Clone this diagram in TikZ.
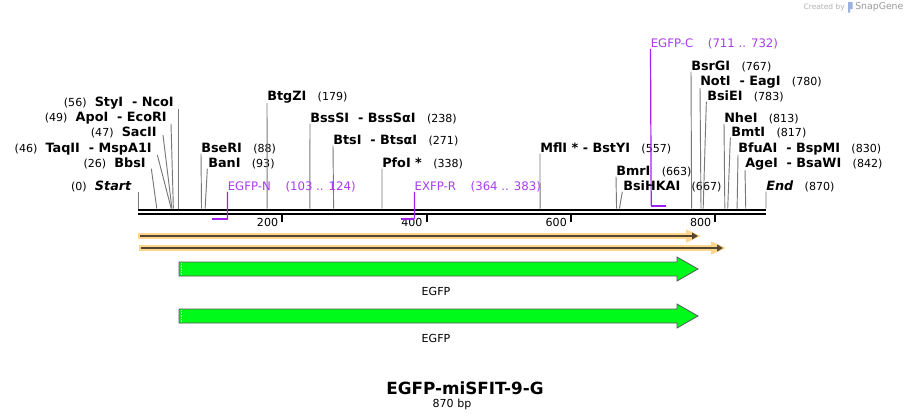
\documentclass[tikz,border=0pt]{standalone}
\usepackage{fontspec}
\setmainfont{DejaVu Sans}
\usetikzlibrary{arrows.meta}
\definecolor{primer}{RGB}{160,32,240}
\definecolor{primertxt}{RGB}{170,60,240}
\definecolor{featorange}{RGB}{255,214,140}
\definecolor{featdark}{RGB}{85,70,50}
\definecolor{egfpgreen}{RGB}{0,250,25}
\definecolor{cutgray}{RGB}{120,120,120}
\newcommand\nm[1]{\textbf{#1}}
\newcommand\ps[1]{{\mdseries\fontsize{8.3}{10}\selectfont(#1)}}
\newcommand\gap{\hspace{8.5pt}}
\begin{document}
\begin{tikzpicture}[x=0.75pt,y=-0.75pt,
  lab/.style={inner sep=0pt, font=\fontsize{9.6}{11}\selectfont},
  el/.style={lab, anchor=base west},
  er/.style={lab, anchor=base east},
  pl/.style={lab, anchor=base west, text=primertxt, font=\fontsize{8.8}{11}\selectfont},
  cut/.style={draw=cutgray, line width=0.7pt},
  pbar/.style={draw=primer, line width=1.5pt},
  pline/.style={draw=primer, line width=0.9pt},
  tick/.style={line width=1.5pt},
  ticklab/.style={inner sep=0pt, anchor=east, font=\fontsize{8.3}{10}\selectfont},
  feat/.style={draw=black!65, line width=0.6pt, fill=egfpgreen},
  flab/.style={inner sep=0pt, font=\fontsize{8.3}{10}\selectfont}]
\useasboundingbox (0,0) rectangle (905,419);
\fill[white] (0,0) rectangle (905,419);

% sites on backbone
\foreach \p in {0,26,46,47,49,56,88,93,179,238,271,338,557,663,667,767,780,783,813,817,830,842,870}
  \coordinate (s\p) at ({138+0.7218*\p},208.5);

% backbone
\coordinate (bbL) at (138,210.3);
\coordinate (bbR) at (766,210.3);
\coordinate (bbL2) at (138,214.2);
\coordinate (bbR2) at (766,214.2);
\draw[line width=1.5pt] (bbL) -- (bbR);
\draw[line width=1.8pt] (bbL2) -- (bbR2);

% ticks
\foreach \t in {200,400,600,800}{
  \coordinate (t\t) at ({138+0.7218*\t},215);
  \draw[tick] (t\t) -- ++(0,7);
  \node[ticklab] (tl\t) at ({138+0.7218*\t-4},222.5) {\t};
}

% left-side enzyme labels
\node[er] (styi) at (174,106) {\ps{56}\ \ \nm{StyI\ \ - NcoI}};
\node[er] (apoi) at (167,121) {\ps{49}\ \ \nm{ApoI\ \ - EcoRI}};
\node[er] (sacii) at (157,136) {\ps{47}\ \ \nm{SacII}};
\node[er] (taqii) at (152,152) {\ps{46}\ \ \nm{TaqII\ \ - MspA1I}};
\node[er] (bbsi) at (146,167) {\ps{26}\ \ \nm{BbsI}};
\node[er] (start) at (132,190) {\ps{0}\ \ \nm{\itshape Start}};

\draw[cut] (styi.south east -| s56) -- (s56);
\draw[cut] ([xshift=3pt]apoi.south east) -- (s49);
\draw[cut] ([xshift=4.5pt,yshift=2pt]sacii.south east) -- (s47);
\draw[cut] ([xshift=4pt]taqii.south east) -- (s46);
\draw[cut] ([xshift=4pt]bbsi.south east) -- (s26);
\draw[cut] (start.south east -| s0) -- (s0);

% right-side enzyme labels
\node[el] (bseri) at (201,152) {\nm{BseRI}\gap\ps{88}};
\node[el] (bani) at (208,167) {\nm{BanI}\gap\ps{93}};
\node[el] (btgzi) at (267,100) {\nm{BtgZI}\gap\ps{179}};
\node[el] (bsssi) at (310,122) {\nm{BssSI\ \ - BssSαI}\gap\ps{238}};
\node[el] (btsi) at (333,144) {\nm{BtsI\ \ - BtsαI}\gap\ps{271}};
\node[el] (pfoi) at (382,167) {\nm{PfoI *}\gap\ps{338}};
\node[el] (mfli) at (540,152) {\nm{MflI * - BstYI}\gap\ps{557}};
\node[el] (bmri) at (616,175) {\nm{BmrI}\gap\ps{663}};
\node[el] (bsihkai) at (623,190) {\nm{BsiHKAI}\gap\ps{667}};
\node[el] (bsrgi) at (691,70) {\nm{BsrGI}\gap\ps{767}};
\node[el] (noti) at (700,85) {\nm{NotI\ \ - EagI}\gap\ps{780}};
\node[el] (bsiei) at (707,100) {\nm{BsiEI}\gap\ps{783}};
\node[el] (nhei) at (724,122) {\nm{NheI}\gap\ps{813}};
\node[el] (bmti) at (731,136) {\nm{BmtI}\gap\ps{817}};
\node[el] (bfuai) at (738,152) {\nm{BfuAI\ \ - BspMI}\gap\ps{830}};
\node[el] (agei) at (745,167) {\nm{AgeI\ \ - BsaWI}\gap\ps{842}};
\node[el] (endl) at (766,190) {\nm{\itshape End}\gap\ps{870}};

\draw[cut] (bseri.south west) -- (s88);
\draw[cut] ([xshift=-0.5pt]bani.south west) -- (s93);
\draw[cut] (btgzi.south west) -- (s179);
\draw[cut] (bsssi.south west) -- (s238);
\draw[cut] (btsi.south west) -- (s271);
\draw[cut] (pfoi.south west) -- (s338);
\draw[cut] (mfli.south west) -- (s557);
\draw[cut] (bmri.south west) -- (s663);
\draw[cut] ([xshift=-0.5pt]bsihkai.south west) -- (s667);
\draw[cut] (bsrgi.south west) -- (s767);
\draw[cut] (noti.south west) -- (s780);
\draw[cut] ([xshift=-0.5pt]bsiei.south west) -- (s783);
\draw[cut] (nhei.south west) -- (s813);
\draw[cut] ([xshift=-0.5pt]bmti.south west) -- (s817);
\draw[cut] (bfuai.south west) -- (s830);
\draw[cut] (agei.south west) -- (s842);
\draw[cut] (endl.south west) -- (s870);

% primers
\node[pl] (egfpn) at (227.5,190) {EGFP-N\hspace{11pt}(103 .. 124)};
\coordinate (pnA) at ({138+0.7218*103},219);
\coordinate (pnB) at ({138+0.7218*124},219);
\draw[pbar] (pnA) -- (pnB);
\draw[pline] (egfpn.south west) -- (pnB);

\node[pl] (exfpr) at (414.4,190) {EXFP-R\hspace{11pt}(364 .. 383)};
\coordinate (prA) at ({138+0.7218*364},219);
\coordinate (prB) at ({138+0.7218*383},219);
\draw[pbar] (prA) -- (prB);
\draw[pline] (exfpr.south west) -- (prB);

\node[pl] (egfpc) at (650.5,47) {EGFP-C\hspace{11pt}(711 .. 732)};
\coordinate (pcA) at ({138+0.7218*711},205.5);
\coordinate (pcB) at ({138+0.7218*732},205.5);
\draw[pbar] (pcA) -- (pcB);
\draw[pline] (egfpc.south west) -- (pcA);

% orange features
\coordinate (o1a) at (138,236);
\coordinate (o1b) at (698,236);
\draw[featorange, line width=4.5pt] (o1a) -- ([xshift=-6pt]o1b);
\fill[featorange] ([xshift=-9pt,yshift=5pt]o1b) -- ([xshift=2pt]o1b) -- ([xshift=-9pt,yshift=-5pt]o1b) -- cycle;
\draw[featdark, line width=1.5pt, -{Triangle[length=4.5pt,width=5pt]}] ([xshift=1.5pt]o1a) -- (o1b);

\coordinate (o2a) at (139,248);
\coordinate (o2b) at (723,248);
\draw[featorange, line width=4.5pt] (o2a) -- ([xshift=-6pt]o2b);
\fill[featorange] ([xshift=-9pt,yshift=5pt]o2b) -- ([xshift=2pt]o2b) -- ([xshift=-9pt,yshift=-5pt]o2b) -- cycle;
\draw[featdark, line width=1.5pt, -{Triangle[length=4.5pt,width=5pt]}] ([xshift=1.5pt]o2a) -- (o2b);

% EGFP features
\foreach \yc/\nmid in {269/f1, 316/f2}{
  \draw[feat] (179,\yc-7) -- (677,\yc-7) -- (677,\yc-12) -- (698,\yc) -- (677,\yc+12) -- (677,\yc+7) -- (179,\yc+7) -- cycle;
  \draw[white, line width=0.5pt, dash pattern=on 0.6pt off 0.6pt] (181,\yc-6) -- (181,\yc+6);
  \node[flab] (\nmid) at (436,\yc+22) {EGFP};
}

% title
\node[inner sep=0pt, font=\bfseries\fontsize{12.6}{15}\selectfont] (title) at (465,388) {EGFP-miSFIT-9-G};
\node[inner sep=0pt, font=\fontsize{8.3}{10}\selectfont] (len) at (452,404) {870 bp};

% credit
\node[inner sep=0pt, anchor=east, text=black!30, font=\fontsize{5.6}{7}\selectfont] (cr1) at (845,7) {Created by};
\fill[cyan!45!blue!40] (848,2) rectangle (852.5,9) (848,9) rectangle (850,12.5);
\node[inner sep=0pt, anchor=west, text=black!40, font=\fontsize{7}{8}\selectfont] (cr2) at (855,7) {SnapGene};
\end{tikzpicture}
\end{document}
